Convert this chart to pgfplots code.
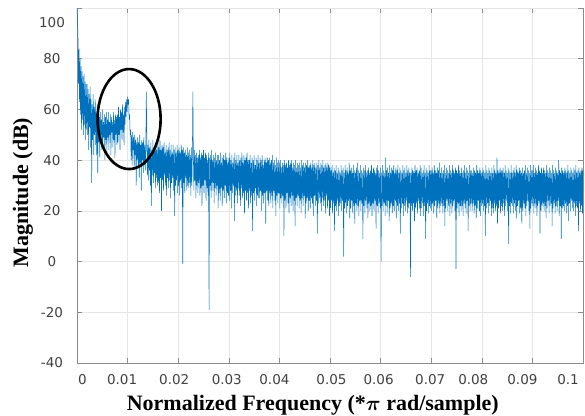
\documentclass[border=0pt]{standalone}
\usepackage{pgfplots}
\pgfplotsset{compat=1.18}
\usepackage{pgfplotstable}
\usepackage{amsmath}
\usepackage{bm}
\usepackage{fontspec}
\setmainfont{Liberation Serif}
\newfontfamily\tickfont{DejaVu Sans}
\definecolor{mblue}{HTML}{0072BD}
\definecolor{gridc}{HTML}{E6E6E6}
\definecolor{axc}{HTML}{8C8C8C}
\definecolor{tlc}{HTML}{404040}
\newcommand\xl[2]{\makebox[0pt]{\hspace*{#1}#2}}
% magnitude (dB), sampled every 0.0001 from 0 to 0.1
\pgfplotstableread[row sep=\\, header=false]{
100\\95\\88\\70\\84\\63\\80\\58\\77\\52\\75\\56\\73\\50\\74\\54\\71\\48\\70\\52\\
70\\50\\68\\44\\66\\53\\69\\45\\64\\31\\62\\48\\66\\42\\61\\50\\64\\46\\59\\42\\
62\\35\\60\\47\\57\\41\\59\\50\\56\\44\\60\\45\\55\\49\\58\\40\\57\\48\\59\\43\\
56\\49\\59\\44\\55\\50\\58\\42\\57\\51\\55\\45\\59\\48\\56\\41\\58\\50\\57\\46\\
58\\47\\61\\50\\57\\44\\60\\52\\59\\48\\62\\51\\58\\46\\61\\54\\63\\57\\64\\59\\
65\\62\\64\\56\\58\\50\\52\\40\\50\\38\\51\\44\\49\\36\\50\\42\\48\\30\\47\\40\\
49\\37\\47\\33\\50\\39\\46\\28\\48\\40\\47\\35\\49\\38\\46\\36\\45\\67\\48\\34\\
46\\32\\48\\36\\45\\30\\47\\22\\44\\34\\48\\31\\45\\35\\46\\29\\47\\33\\44\\30\\
47\\31\\45\\27\\48\\33\\44\\20\\46\\32\\45\\28\\47\\34\\43\\30\\46\\26\\44\\33\\
45\\29\\47\\32\\44\\25\\46\\31\\43\\33\\46\\28\\44\\18\\45\\30\\43\\32\\46\\27\\
44\\30\\45\\26\\43\\32\\46\\29\\44\\-1\\45\\31\\43\\27\\44\\33\\42\\28\\45\\30\\
43\\29\\44\\31\\42\\26\\45\\30\\43\\67\\41\\28\\44\\32\\42\\25\\43\\30\\41\\27\\
42\\31\\44\\26\\41\\29\\43\\22\\42\\30\\44\\27\\41\\32\\43\\24\\42\\29\\40\\26\\
43\\-19\\41\\30\\42\\25\\44\\28\\40\\31\\42\\23\\41\\29\\43\\26\\40\\30\\42\\21\\
42\\27\\40\\24\\43\\29\\39\\22\\41\\28\\42\\25\\40\\30\\43\\23\\41\\27\\39\\26\\
41\\24\\43\\28\\40\\21\\42\\27\\39\\30\\41\\16\\43\\26\\40\\28\\42\\23\\39\\29\\
42\\26\\40\\22\\41\\29\\43\\25\\39\\27\\42\\19\\40\\28\\41\\24\\43\\27\\40\\21\\
40\\28\\42\\23\\39\\26\\41\\12\\40\\27\\42\\24\\38\\29\\41\\22\\40\\26\\42\\25\\
39\\25\\41\\28\\40\\20\\42\\26\\38\\23\\40\\27\\41\\15\\39\\28\\41\\24\\40\\22\\
41\\27\\39\\23\\40\\26\\42\\21\\39\\28\\40\\24\\38\\18\\41\\26\\39\\23\\40\\27\\
39\\21\\40\\25\\37\\23\\39\\26\\38\\10\\40\\24\\38\\21\\39\\27\\37\\23\\40\\19\\
38\\25\\39\\22\\40\\26\\37\\20\\39\\24\\38\\14\\40\\25\\37\\22\\39\\26\\38\\21\\
39\\24\\37\\19\\40\\25\\38\\22\\39\\26\\37\\17\\39\\23\\38\\25\\40\\20\\37\\24\\
38\\21\\39\\25\\37\\23\\40\\18\\38\\26\\39\\22\\37\\24\\39\\11\\38\\23\\40\\25\\
37\\23\\39\\20\\38\\25\\40\\22\\37\\24\\38\\19\\39\\26\\37\\21\\39\\24\\38\\18\\
37\\21\\36\\24\\38\\19\\35\\23\\37\\12\\36\\22\\38\\20\\35\\24\\37\\18\\36\\22\\
35\\23\\38\\20\\36\\24\\37\\2\\35\\21\\38\\23\\36\\19\\37\\22\\35\\24\\39\\17\\
36\\21\\37\\24\\35\\19\\38\\22\\36\\15\\35\\23\\37\\20\\39\\22\\36\\18\\35\\24\\
38\\20\\36\\23\\35\\9\\37\\22\\36\\19\\38\\24\\35\\21\\36\\17\\37\\23\\35\\20\\
36\\22\\38\\18\\35\\23\\37\\20\\36\\24\\35\\13\\37\\22\\38\\19\\36\\23\\35\\21\\
37\\0\\35\\22\\38\\20\\36\\23\\35\\18\\41\\22\\36\\19\\37\\24\\35\\16\\38\\21\\
35\\23\\37\\19\\36\\22\\38\\20\\35\\24\\37\\17\\36\\22\\38\\20\\35\\23\\37\\11\\
36\\21\\35\\23\\38\\18\\36\\22\\37\\20\\35\\24\\38\\19\\36\\21\\37\\23\\35\\-6\\
35\\22\\37\\20\\36\\23\\35\\16\\38\\21\\36\\23\\37\\19\\35\\24\\36\\21\\38\\18\\
37\\21\\35\\23\\36\\18\\38\\22\\35\\9\\37\\20\\36\\23\\35\\19\\38\\22\\36\\21\\
36\\20\\37\\23\\35\\19\\38\\22\\36\\24\\35\\17\\37\\21\\36\\23\\39\\19\\35\\22\\
37\\23\\35\\19\\36\\22\\38\\14\\35\\21\\37\\24\\36\\20\\35\\22\\38\\18\\36\\23\\
35\\19\\38\\22\\36\\24\\35\\20\\37\\-3\\36\\21\\35\\23\\38\\18\\36\\22\\35\\20\\
37\\22\\35\\18\\36\\23\\38\\21\\35\\19\\37\\24\\36\\12\\35\\22\\38\\20\\36\\23\\
36\\20\\35\\23\\37\\19\\36\\22\\35\\17\\38\\21\\36\\24\\35\\20\\37\\18\\36\\22\\
35\\23\\37\\20\\36\\22\\35\\10\\38\\21\\36\\23\\35\\19\\37\\22\\36\\24\\35\\18\\
37\\21\\35\\19\\38\\23\\36\\20\\35\\22\\41\\15\\36\\21\\35\\24\\37\\19\\36\\22\\
36\\20\\37\\23\\35\\18\\38\\22\\36\\24\\35\\20\\37\\7\\36\\22\\35\\19\\38\\23\\
35\\22\\36\\19\\37\\23\\35\\20\\38\\17\\36\\22\\35\\24\\37\\19\\36\\21\\35\\15\\
37\\20\\35\\23\\36\\21\\38\\18\\35\\22\\37\\24\\36\\20\\35\\13\\38\\21\\36\\23\\
36\\22\\38\\19\\35\\23\\37\\21\\36\\18\\35\\22\\38\\24\\36\\11\\35\\20\\37\\22\\
35\\23\\37\\20\\36\\22\\35\\17\\38\\21\\36\\24\\35\\19\\37\\22\\36\\23\\35\\14\\
38\\21\\36\\23\\35\\19\\37\\22\\36\\20\\35\\24\\40\\18\\36\\22\\35\\9\\37\\21\\
36\\22\\35\\20\\37\\23\\36\\19\\35\\22\\38\\16\\36\\23\\35\\20\\37\\24\\36\\21\\
35\\20\\37\\23\\36\\18\\38\\22\\35\\21\\36\\12\\37\\23\\35\\20\\36\\22\\37\\19\\
36\\
}\spec
\begin{document}
\begin{tikzpicture}
\path[use as bounding box] (-77bp,-53bp) rectangle (508bp,363bp);
\begin{axis}[
  at={(0,0)}, anchor=south west,
  scale only axis, width=506bp, height=355bp,
  xmin=0, xmax=0.1, ymin=-40, ymax=100,
  xtick={0,0.01,...,0.1},
  xticklabels={\xl{11bp}{0},\xl{-11bp}{0.01},\xl{-8bp}{0.02},\xl{-4bp}{0.03},\xl{-10bp}{0.04},\xl{3bp}{0.05},\xl{-4bp}{0.06},\xl{-2bp}{0.07},\xl{-17bp}{0.08},\xl{-20bp}{0.09},\xl{-30bp}{0.1}},
  ytick={-40,-20,0,20,40,60,80},
  yticklabels={-40,-20,0,20,40,60,80},
  extra y ticks={100}, extra y tick labels={100},
  extra y tick style={yticklabel style={yshift=-15bp}},
  grid=major,
  major grid style={gridc, line width=0.6bp},
  axis line style={axc, line width=0.8bp},
  tick style={axc, line width=0.6bp},
  major tick length=5bp, tick align=inside,
  ticklabel style={font=\fontsize{13.5bp}{16bp}\tickfont, text=tlc},
  xticklabel style={anchor=center, yshift=-17bp},
  yticklabel style={anchor=center, xshift=-25bp},
  xlabel={Normalized Frequency (*$\bm{\pi}$ rad/sample)},
  ylabel={Magnitude (dB)},
  label style={font=\fontsize{22bp}{26bp}\selectfont\bfseries},
  xlabel style={at={(axis description cs:0.466,0)}, anchor=base, yshift=-47bp},
  ylabel style={at={(axis description cs:-0.107,0.48)}, anchor=center},
]
\addplot[mblue, line width=0.5bp] table[x expr=\coordindex/10000, y index=0] {\spec};
\draw[black, line width=2.6bp] (axis cs:0.0103,56.2) ellipse [x radius=31.5bp, y radius=50bp];
\end{axis}
\end{tikzpicture}
\end{document}
